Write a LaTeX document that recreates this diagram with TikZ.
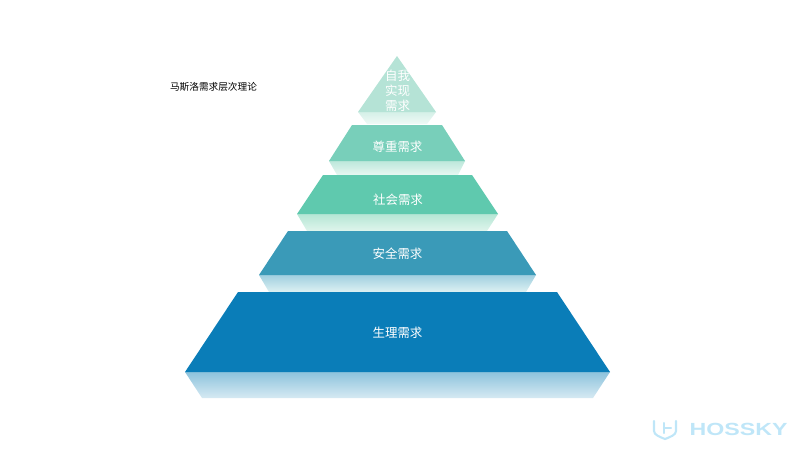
\documentclass[tikz,border=0pt]{standalone}
\usepackage{fontspec}
\setmainfont{Noto Sans CJK SC}
\newfontfamily\markfont{Liberation Sans}
\definecolor{tierfive}{HTML}{0A7DB8}
\definecolor{tierfour}{HTML}{3A9AB8}
\definecolor{tierthree}{HTML}{5FC9AE}
\definecolor{tiertwo}{HTML}{78CFBA}
\definecolor{tierone}{HTML}{B5E3D6}
\definecolor{fivetop}{HTML}{8DC3DC}
\definecolor{fiveend}{HTML}{D6EAF3}
\definecolor{fourtop}{HTML}{A0CFE0}
\definecolor{fourend}{HTML}{DDF1F2}
\definecolor{threetop}{HTML}{B5E6D5}
\definecolor{threeend}{HTML}{DFF5EC}
\definecolor{twotop}{HTML}{BDE8DB}
\definecolor{twoend}{HTML}{E8F7F2}
\definecolor{onetop}{HTML}{D5F0E8}
\definecolor{oneend}{HTML}{EFFAF6}
\definecolor{markblue}{HTML}{BFE6F8}
\tikzset{
  tier/.style={fill=#1,draw=none},
  mirror/.style 2 args={top color=#1,bottom color=#2,draw=none},
  tierlabel/.style={text=white,font=\fontsize{7.1pt}{8.5pt}\selectfont,align=center,inner sep=0pt},
}
\begin{document}
\begin{tikzpicture}[x=0.02cm,y=-0.02cm]
  \useasboundingbox (0,0) rectangle (800,450);

  % reflections under each tier
  \path[mirror={fivetop}{fiveend}] (185,372) -- (610,372) -- (593,398) -- (202,398) -- cycle;
  \path[mirror={fourtop}{fourend}] (259,275) -- (536,275) -- (526,292) -- (269,292) -- cycle;
  \path[mirror={threetop}{threeend}] (297,214) -- (498,214) -- (487,231) -- (307,231) -- cycle;
  \path[mirror={twotop}{twoend}] (329,161) -- (465,161) -- (458,175) -- (337,175) -- cycle;
  \path[mirror={onetop}{oneend}] (358,112) -- (436,112) -- (427,124) -- (367,124) -- cycle;

  % tiers
  \path[tier=tierfive] (238,292) -- (557,292) -- (610,372) -- (185,372) -- cycle;
  \path[tier=tierfour] (288,231) -- (507,231) -- (536,275) -- (259,275) -- cycle;
  \path[tier=tierthree] (323,175) -- (472,175) -- (498,214) -- (297,214) -- cycle;
  \path[tier=tiertwo] (352,125) -- (442,125) -- (465,161) -- (329,161) -- cycle;
  \path[tier=tierone] (397,56) -- (436,112) -- (358,112) -- cycle;

  \node[tierlabel] (self) at (397.5,91) {自我\\实现\\需求};
  \node[tierlabel] (esteem) at (397.5,147) {尊重需求};
  \node[tierlabel] (social) at (398,200) {社会需求};
  \node[tierlabel] (safety) at (397.5,254) {安全需求};
  \node[tierlabel] (body) at (397.5,333) {生理需求};
  \node[font=\fontsize{5.5pt}{6pt}\selectfont,inner sep=0pt] (title) at (213.5,86.5) {马斯洛需求层次理论};

  % watermark
  \draw[markblue,line width=1.2pt,line cap=round]
    (654,421) -- (654,431) .. controls (654,435) and (660,437) .. (665,439)
    .. controls (670,437) and (676,435) .. (676,431) -- (676,421);
  \draw[markblue,line width=1.2pt,line cap=round] (664,423) -- (664,433) (664,428) -- (671,428);
  \node[text=markblue,font=\markfont\bfseries\fontsize{10pt}{10pt}\selectfont,xscale=1.32,inner sep=0pt] (mark) at (738.5,429) {HOSSKY};
\end{tikzpicture}
\end{document}
